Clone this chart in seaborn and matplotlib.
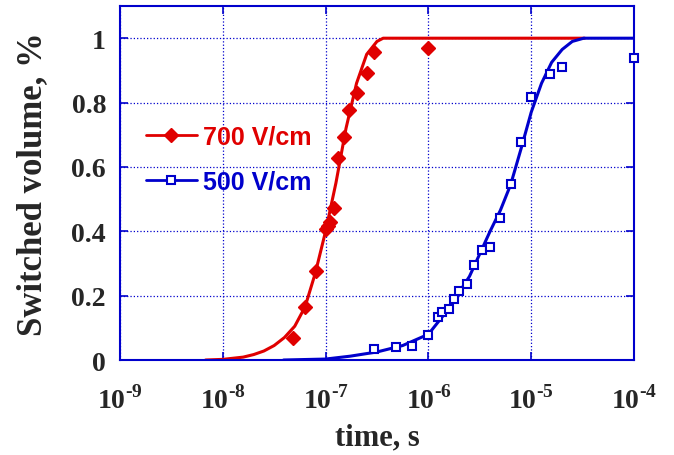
import numpy as np
import pandas as pd
import matplotlib
matplotlib.use("Agg")
import matplotlib.pyplot as plt
from matplotlib.lines import Line2D
import seaborn as sns

sns.set_theme(style="ticks")
plt.rcParams.update({'font.family': ['Liberation Serif', 'DejaVu Serif'],
                     'mathtext.fontset': 'custom',
                     'mathtext.rm': 'Liberation Serif:bold',
                     'mathtext.bf': 'Liberation Serif:bold'})

RED  = "#E00000"
BLUE = "#0000CC"

# measured points, 700 V/cm
t700 = [4.85e-8, 6.3e-8, 8.0e-8, 1.02e-7, 1.06e-7, 1.1e-7, 1.22e-7, 1.33e-7,
        1.52e-7, 1.70e-7, 2.01e-7, 2.51e-7, 2.96e-7, 1.0e-6]
v700 = [0.068, 0.164, 0.278, 0.408, 0.415, 0.43, 0.473, 0.628,
        0.694, 0.777, 0.829, 0.891, 0.956, 0.969]

# measured points, 500 V/cm
t500 = [2.96e-7, 4.8e-7, 7.0e-7, 1.0e-6, 1.25e-6, 1.35e-6, 1.6e-6, 1.77e-6,
        2.0e-6, 2.36e-6, 2.78e-6, 3.35e-6, 3.98e-6, 4.98e-6, 6.37e-6,
        7.96e-6, 9.96e-6, 1.52e-5, 2.0e-5, 1.0e-4]
v500 = [0.034, 0.041, 0.045, 0.078, 0.133, 0.149, 0.157, 0.190,
        0.216, 0.235, 0.296, 0.341, 0.351, 0.442, 0.546,
        0.678, 0.816, 0.889, 0.910, 0.938]

# fitted curves
fit700_t = [6.8e-9, 1.0e-8, 1.58e-8, 2.0e-8, 2.51e-8, 3.16e-8, 3.98e-8, 5.01e-8,
            6.31e-8, 7.94e-8, 1.0e-7, 1.26e-7, 1.58e-7, 2.0e-7, 2.51e-7,
            3.16e-7, 3.63e-7, 3.3e-5]
fit700_v = [0.0, 0.002, 0.009, 0.017, 0.028, 0.045, 0.07, 0.105,
            0.165, 0.27, 0.40, 0.55, 0.72, 0.86, 0.95,
            0.99, 1.0, 1.0]

fit500_t = [3.9e-8, 1.0e-7, 1.74e-7, 3.16e-7, 5.62e-7, 1.0e-6, 1.58e-6, 2.51e-6,
            3.98e-6, 5.01e-6, 6.31e-6, 7.94e-6, 1.0e-5, 1.26e-5, 1.58e-5,
            2.0e-5, 2.51e-5, 3.24e-5, 1.0e-4]
fit500_v = [0.0, 0.003, 0.012, 0.025, 0.045, 0.08, 0.16, 0.26,
            0.40, 0.465, 0.545, 0.655, 0.77, 0.86, 0.925,
            0.965, 0.99, 1.0, 1.0]

xticks = [1e-9, 1e-8, 1e-7, 1e-6, 1e-5, 1e-4]
xexps = ['-9', '-8', '-7', '-6', '-5', '-4']
yticks = [0, 0.2, 0.4, 0.6, 0.8, 1]
ylabels = ['0', '0.2', '0.4', '0.6', '0.8', '1']

fig = plt.figure(figsize=(6.74, 4.56), dpi=100)
ax = fig.add_axes([0.178, 0.2083, 0.7627, 0.7763])

sns.lineplot(x=fit700_t, y=fit700_v, ax=ax, color=RED, linewidth=2.2,
             estimator=None, sort=False)
sns.lineplot(x=fit500_t, y=fit500_v, ax=ax, color=BLUE, linewidth=2.2,
             estimator=None, sort=False)
ax.plot(t700, v700, linestyle='none', marker='D', markersize=7,
        color=RED, markeredgecolor=RED, zorder=4, clip_on=False)
ax.plot(t500, v500, linestyle='none', marker='s', markersize=6,
        markerfacecolor='white', markeredgecolor=BLUE, markeredgewidth=1.5,
        zorder=4, clip_on=False)

ax.set_xscale('log')
ax.set_xlim(1e-9, 1e-4)
ax.set_ylim(0, 1.1)
ax.set_xticks(xticks)
ax.set_xticklabels([r'$10^{\text{%s}}$' % e for e in xexps])
ax.set_yticks(yticks)
ax.set_yticklabels(ylabels)
ax.minorticks_off()

ax.grid(True, which='major', color=BLUE, linestyle=':', linewidth=0.9)
for s in ax.spines.values():
    s.set_color(BLUE)
    s.set_linewidth(1.5)
ax.tick_params(direction='in', length=6, width=1.2, color=BLUE,
               top=True, right=True, labelsize=19)
ax.tick_params(axis='x', pad=18)
ax.tick_params(axis='y', pad=10)
for lbl in ax.get_xticklabels() + ax.get_yticklabels():
    lbl.set_fontweight('bold')
    lbl.set_fontsize(20)

ax.set_xlabel("time, s", fontsize=22, fontweight='bold', labelpad=6)
ax.set_ylabel("Switched volume, %", fontsize=25, fontweight='bold', labelpad=16)

handles = [Line2D([], [], color=RED, linewidth=2, marker='D', markersize=7),
           Line2D([], [], color=BLUE, linewidth=2, marker='s', markersize=6,
                  markerfacecolor='white', markeredgewidth=1.5)]
leg = ax.legend(handles, ['700 V/cm', '500 V/cm'], loc='upper left',
                bbox_to_anchor=(0.0506, 0.664), frameon=False, handlelength=2.04,
                handletextpad=0.24, labelspacing=0.84, borderpad=0,
                borderaxespad=0,
                prop={'family': 'Liberation Sans', 'weight': 'bold', 'size': 18})
for txt, c in zip(leg.get_texts(), [RED, BLUE]):
    txt.set_color(c)

plt.savefig("out.png", dpi=100)
plt.close()
